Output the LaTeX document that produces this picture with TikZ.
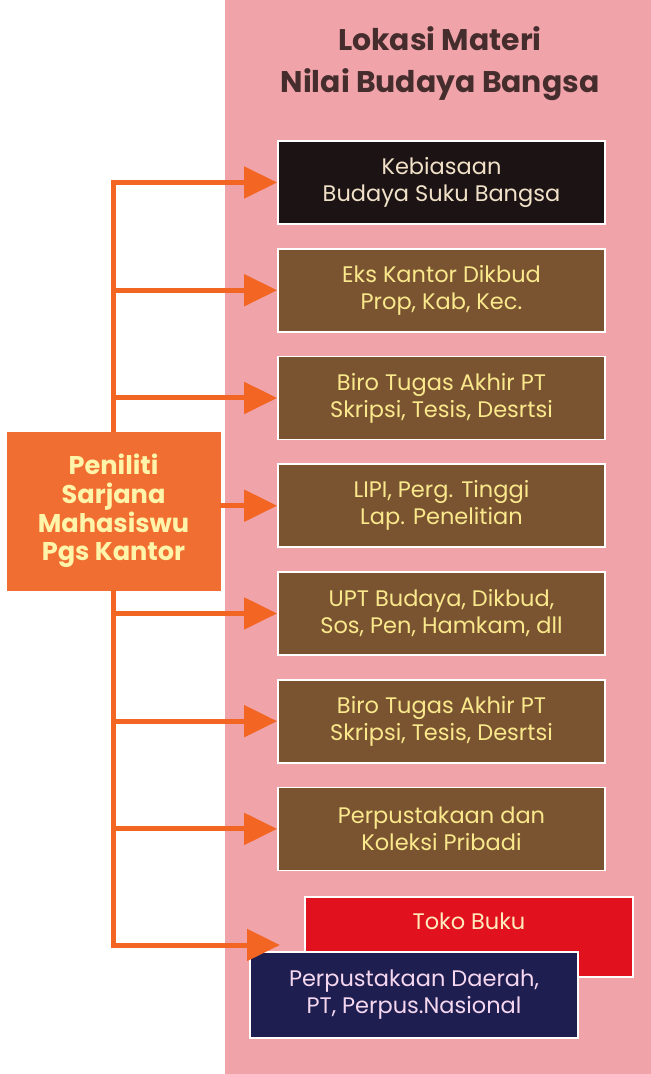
\documentclass[tikz,border=0pt]{standalone}
\usepackage{fontspec}
\setmainfont{Poppins}
\usepackage{xcolor}
\usetikzlibrary{arrows.meta,positioning}

\definecolor{panelpink}{RGB}{240,164,170}
\definecolor{linkorange}{RGB}{242,101,34}
\definecolor{sourceorange}{RGB}{240,110,50}
\definecolor{boxbrown}{RGB}{122,84,48}
\definecolor{boxblack}{RGB}{28,20,20}
\definecolor{tokored}{RGB}{225,18,30}
\definecolor{boxnavy}{RGB}{30,30,80}
\definecolor{titledark}{RGB}{70,45,45}
\definecolor{browntext}{RGB}{250,232,140}
\definecolor{blacktext}{RGB}{240,225,200}
\definecolor{navytext}{RGB}{245,215,240}
\definecolor{redtext}{RGB}{255,235,190}
\definecolor{sourcetext}{RGB}{255,245,170}

\begin{document}
\begin{tikzpicture}[x=0.02cm, y=-0.02cm, node distance=0.46cm,
titlenode/.style={align=center, text=titledark, font=\fontsize{17}{24}\selectfont\bfseries},
placenode/.style={rectangle, draw=white, line width=1pt, fill=boxbrown, text=browntext, minimum width=6.54cm, minimum height=1.66cm, inner sep=2pt, align=center, font=\fontsize{12.8}{15.4}\selectfont},
sourcenode/.style={rectangle, draw=sourceorange, fill=sourceorange, text=sourcetext, minimum width=4.26cm, minimum height=3.16cm, align=center, font=\fontsize{14.6}{16.4}\selectfont\bfseries},
link/.style={draw=linkorange, line width=0.1cm, -{Triangle[length=0.66cm,width=0.62cm]}},
]
\useasboundingbox (0,0) rectangle (651,1074);
\fill[white] (0,0) rectangle (651,1074);
\fill[panelpink] (225,0) rectangle (651,1074);

%Nodes
\node[titlenode] (title) at (440,64) {Lokasi Materi\\Nilai Budaya Bangsa};
\node[placenode, fill=boxblack, text=blacktext] (kebiasaan) at (441.5,182.5) {Kebiasaan\\Budaya Suku Bangsa};
\node[placenode] (ekskantor) [below=of kebiasaan] {Eks Kantor Dikbud\\Prop, Kab, Kec.};
\node[placenode] (biro)      [below=of ekskantor] {Biro Tugas Akhir PT\\Skripsi, Tesis, Desrtsi};
\node[placenode] (lipi)      [below=of biro]      {LIPI, Perg. Tinggi\\Lap. Penelitian};
\node[placenode] (upt)       [below=of lipi]      {UPT Budaya, Dikbud,\\Sos, Pen, Hamkam, dll};
\node[placenode] (birodua)   [below=of upt]       {Biro Tugas Akhir PT\\Skripsi, Tesis, Desrtsi};
\node[placenode] (koleksi)   [below=of birodua]   {Perpustakaan dan\\Koleksi Pribadi};
\node[placenode, fill=tokored, text=redtext, minimum width=6.56cm, minimum height=1.6cm, text depth=0.62cm] (tokobuku) at (469,937) {Toko Buku};
\node[placenode, fill=boxnavy, text=navytext, minimum width=6.56cm, minimum height=1.72cm] (perpusda) at (414,995) {Perpustakaan Daerah,\\PT, Perpus.Nasional};
\node[sourcenode] (peneliti) at (113.5,511) {Peniliti\\Sarjana\\Mahasiswu\\Pgs Kantor};
\coordinate (tokoarrow) at (280,945);

%Lines
\draw[link] (peneliti.north) |- (kebiasaan.west);
\foreach \place in {ekskantor,biro,upt,birodua,koleksi}
  \draw[link] (peneliti |- \place.west) -- (\place.west);
\draw[link] (peneliti.east |- lipi.west) -- (lipi.west);
\draw[link] (peneliti.south) |- (tokoarrow);
\end{tikzpicture}
\end{document}
